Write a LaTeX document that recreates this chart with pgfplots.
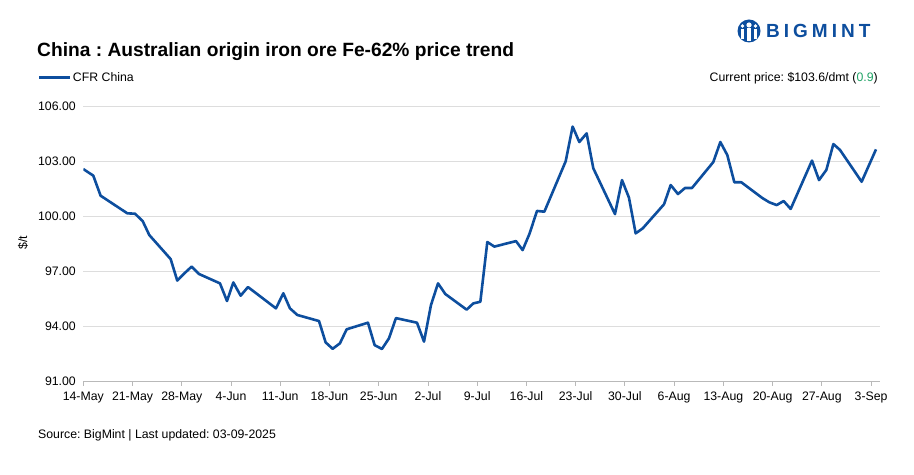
\documentclass[border=0pt]{standalone}
\usepackage{fontspec}
\setmainfont{Liberation Sans}
\usepackage{pgfplots}
\pgfplotsset{compat=1.18}
\definecolor{lineblue}{HTML}{0D4E9E}
\definecolor{gridgray}{HTML}{DDDDDD}
\definecolor{upgreen}{HTML}{21A366}
\newcommand\sm{\fontsize{12.3bp}{14bp}\selectfont}
\frenchspacing
\begin{document}
\begin{tikzpicture}
\useasboundingbox (0bp,0bp) rectangle (914bp,475bp);
% title, logo, notes
\node[anchor=base west, inner sep=0pt] at (37bp,418bp)
  {\fontsize{19.2bp}{22bp}\selectfont\bfseries China : Australian origin iron ore Fe-62\% price trend};
\fill[lineblue] (749bp,444bp) circle (11.5bp);
\fill[white] (749bp,450bp) circle (2.6bp);
\fill[white] (742.5bp,449bp) circle (1.8bp);
\fill[white] (755.5bp,449bp) circle (1.8bp);
\fill[white] (747.2bp,434bp) rectangle (750.8bp,446.5bp);
\fill[white] (741bp,436bp) rectangle (743.8bp,446bp);
\fill[white] (754.2bp,436bp) rectangle (757bp,446bp);
\node[anchor=base west, inner sep=0pt, text=lineblue] at (766bp,437bp)
  {\fontsize{19bp}{22bp}\selectfont\bfseries B\hspace{4bp}I\hspace{4bp}G\hspace{4bp}M\hspace{4bp}I\hspace{4bp}N\hspace{4bp}T};
\node[anchor=base east, inner sep=0pt] at (878bp,393bp)
  {\sm Current price: \$103.6/dmt (\textcolor{upgreen}{0.9})};
\node[anchor=base west, inner sep=0pt] at (38bp,37bp)
  {\sm Source: BigMint | Last updated: 03-09-2025};
\node[rotate=90, inner sep=0pt] at (23bp,232bp) {\sm \$/t};
\begin{axis}[
  at={(83.3bp,93.3bp)}, anchor=south west,
  scale only axis, width=796.7bp, height=275.7bp,
  xmin=0, xmax=113.27, ymin=91, ymax=106,
  axis x line*=bottom, axis y line*=left,
  x axis line style={draw=gray!55, line width=0.8bp},
  y axis line style={draw=none},
  xtick={0,7,...,112},
  xticklabels={14-May,21-May,28-May,4-Jun,11-Jun,18-Jun,25-Jun,2-Jul,9-Jul,16-Jul,23-Jul,30-Jul,6-Aug,13-Aug,20-Aug,27-Aug,3-Sep},
  ytick={91,94,...,106},
  tick align=outside,
  major tick length=4bp,
  xtick style={draw=gray!55, line width=0.8bp},
  ytick style={draw=none},
  ymajorgrids, grid style={draw=gridgray, line width=0.8bp},
  tick label style={font=\sm},
  yticklabel style={/pgf/number format/.cd, fixed, fixed zerofill, precision=2, assume math mode=true},
  xticklabel style={yshift=-2.5bp},
  legend style={at={(0,1)}, anchor=west, xshift=-46bp, yshift=28bp, draw=none, fill=none,
    inner sep=0pt, font=\sm, nodes={inner sep=1.5bp}},
  legend image code/.code={\draw[#1, line width=3bp] (0bp,0bp) -- (31bp,0bp);},
]
\addplot[lineblue, line width=2.6bp, line join=round] coordinates {
(0,102.57) (1.42,102.21) (2.46,101.12) (6.26,100.16) (7.35,100.14) (8.44,99.74) (9.38,98.98)
(12.42,97.67) (13.36,96.50) (14.36,96.89) (15.40,97.26) (16.45,96.86) (19.43,96.35) (20.43,95.39)
(21.33,96.40) (22.37,95.68) (23.41,96.15) (27.39,94.99) (28.44,95.81) (29.38,94.99) (30.43,94.63)
(33.51,94.30) (34.45,93.14) (35.45,92.79) (36.49,93.09) (37.44,93.85) (40.47,94.21) (41.42,92.99)
(42.46,92.78) (43.46,93.36) (44.45,94.46) (47.44,94.21) (48.44,93.18) (49.43,95.17) (50.43,96.35)
(51.47,95.77) (54.50,94.92) (55.45,95.26) (56.45,95.35) (57.44,98.60) (58.44,98.35) (61.52,98.65)
(62.46,98.16) (63.46,99.07) (64.50,100.29) (65.55,100.25) (68.58,102.99) (69.57,104.88) (70.52,104.04)
(71.56,104.51) (72.51,102.61) (75.59,100.12) (76.59,101.97) (77.58,101.01) (78.53,99.07) (79.53,99.34)
(82.56,100.65) (83.51,101.70) (84.55,101.21) (85.55,101.54) (86.54,101.54) (89.57,102.95) (90.57,104.04)
(91.56,103.33) (92.56,101.85) (93.55,101.85) (96.59,100.98) (97.54,100.76) (98.58,100.61) (99.57,100.83)
(100.57,100.40) (103.60,103.03) (104.60,101.97) (105.64,102.52) (106.64,103.93) (107.58,103.61)
(110.66,101.88) (112.70,103.64)
};
\legend{CFR China}
\end{axis}
\end{tikzpicture}
\end{document}
